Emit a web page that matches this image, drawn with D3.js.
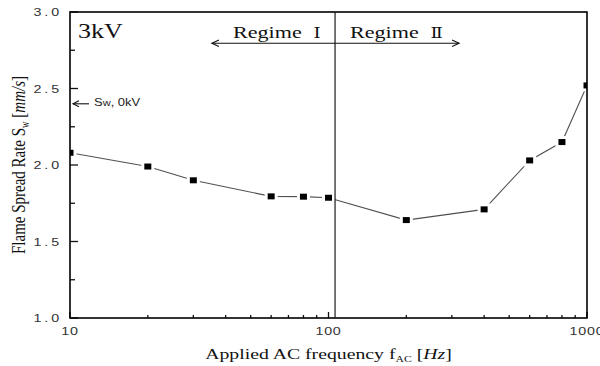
<!DOCTYPE html>
<html>
<head>
<meta charset="utf-8">
<script src="https://cdn.jsdelivr.net/npm/d3@7"></script>
<style>
  body { margin: 0; background: #fff; }
  svg { display: block; }
</style>
</head>
<body>
<svg id="chart" width="600" height="366"></svg>
<script>
// Flame spread rate versus applied AC frequency at 3 kV
const frequencies = [10, 20, 30, 60, 80, 100, 200, 400, 600, 800, 1000];
const spreadRates = [2.08, 1.99, 1.90, 1.795, 1.793, 1.786, 1.64, 1.71, 2.03, 2.15, 2.52];

const yTickValues = [1.0, 1.5, 2.0, 2.5, 3.0];
const yMinorTicks = [1.25, 1.75, 2.25, 2.75];
const xTickValues = [10, 100, 1000];
const xMinorTicks = [20, 30, 40, 50, 60, 70, 80, 90, 200, 300, 400, 500, 600, 700, 800, 900];

const regimeBoundary = 106;          // Hz, divider between regimes
const regimeArrowEnds = [35.4, 320]; // Hz, extent of the regime arrows
const swZeroKV = 2.40;               // spread rate without applied voltage

(function draw() {
  const svg = d3.select("#chart");
  const pLeft = 70, pRight = 587, pTop = 12, pBottom = 318;
  const SX = 1.3; // horizontal stretch of the lettering

  const x = d3.scaleLog().domain([10, 1000]).range([pLeft, pRight]);
  const y = d3.scaleLinear().domain([1, 3]).range([pBottom, pTop]);

  function stretched(parent, px, py, anchor) {
    return parent.append("text")
      .attr("transform", `translate(${px},${py}) scale(${SX},1)`)
      .attr("text-anchor", anchor);
  }

  svg.append("defs").append("clipPath").attr("id", "plotClip")
    .append("rect").attr("x", pLeft).attr("y", pTop)
    .attr("width", pRight - pLeft).attr("height", pBottom - pTop);

  const plot = svg.append("g").attr("clip-path", "url(#plotClip)");
  const points = frequencies.map((f, i) => [f, spreadRates[i]]);

  // connecting line
  plot.append("path")
    .datum(points)
    .attr("fill", "none")
    .attr("stroke", "#505050")
    .attr("stroke-width", 1.1)
    .attr("d", d3.line().x(d => x(d[0])).y(d => y(d[1])));

  // white halo so the line stops short of each marker
  const mw = 7, mh = 6, gap = 3;
  plot.selectAll("rect.halo").data(points).join("rect")
    .attr("class", "halo")
    .attr("x", d => x(d[0]) - mw / 2 - gap)
    .attr("y", d => y(d[1]) - mh / 2 - gap)
    .attr("width", mw + 2 * gap).attr("height", mh + 2 * gap)
    .attr("fill", "#fff");

  plot.selectAll("rect.marker").data(points).join("rect")
    .attr("class", "marker")
    .attr("x", d => x(d[0]) - mw / 2)
    .attr("y", d => y(d[1]) - mh / 2)
    .attr("width", mw).attr("height", mh)
    .attr("fill", "#000");

  // inward ticks
  const ticks = svg.append("g").attr("stroke", "#111").attr("stroke-width", 1.3);
  ticks.selectAll("line.ymaj").data(yTickValues).join("line")
    .attr("class", "ymaj")
    .attr("x1", pLeft).attr("x2", pLeft + 8)
    .attr("y1", d => y(d)).attr("y2", d => y(d));
  ticks.selectAll("line.ymin").data(yMinorTicks).join("line")
    .attr("class", "ymin")
    .attr("x1", pLeft).attr("x2", pLeft + 5)
    .attr("y1", d => y(d)).attr("y2", d => y(d));
  ticks.selectAll("line.xmaj").data(xTickValues).join("line")
    .attr("class", "xmaj")
    .attr("x1", d => x(d)).attr("x2", d => x(d))
    .attr("y1", pBottom).attr("y2", pBottom - 6);
  ticks.selectAll("line.xmin").data(xMinorTicks).join("line")
    .attr("class", "xmin")
    .attr("x1", d => x(d)).attr("x2", d => x(d))
    .attr("y1", pBottom).attr("y2", pBottom - 3);

  // frame
  svg.append("rect")
    .attr("x", pLeft).attr("y", pTop)
    .attr("width", pRight - pLeft).attr("height", pBottom - pTop)
    .attr("fill", "none").attr("stroke", "#000").attr("stroke-width", 1.6);

  // regime divider
  svg.append("line")
    .attr("x1", x(regimeBoundary)).attr("x2", x(regimeBoundary))
    .attr("y1", pTop).attr("y2", pBottom)
    .attr("stroke", "#1a1a1a").attr("stroke-width", 1.2);

  // tick labels
  const tickFont = "'Liberation Sans', Arial, sans-serif";
  yTickValues.forEach(v => {
    stretched(svg, pLeft - 8, y(v) + 4, "end")
      .attr("font-family", tickFont).attr("font-size", 11)
      .attr("letter-spacing", 2.2).attr("fill", "#333")
      .text(d3.format(".1f")(v));
  });
  xTickValues.forEach(v => {
    stretched(svg, x(v), 335, "middle")
      .attr("font-family", tickFont).attr("font-size", 11)
      .attr("letter-spacing", 0.6).attr("fill", "#333")
      .text(v);
  });

  // axis titles
  const serif = "'Liberation Serif', 'Times New Roman', serif";
  const xt = stretched(svg, (pLeft + pRight) / 2, 358.5, "middle")
    .attr("font-family", serif).attr("font-size", 15.2).attr("fill", "#111");
  xt.append("tspan").text("Applied AC frequency f");
  xt.append("tspan").attr("font-size", 9).attr("dy", 3).text("AC");
  xt.append("tspan").attr("dy", -3).text(" [");
  xt.append("tspan").attr("font-style", "italic").text("Hz");
  xt.append("tspan").text("]");

  const yt = svg.append("text")
    .attr("transform", `translate(25,${(pTop + pBottom) / 2}) scale(${SX},1) rotate(-90)`)
    .attr("text-anchor", "middle")
    .attr("font-family", serif).attr("font-size", 15).attr("fill", "#111");
  yt.append("tspan").text("Flame Spread Rate S");
  yt.append("tspan").attr("font-size", 9).attr("dy", 3).text("w");
  yt.append("tspan").attr("dy", -3).text(" [");
  yt.append("tspan").attr("font-style", "italic").text("mm/s");
  yt.append("tspan").text("]");

  // voltage label
  stretched(svg, 78, 37.5, "start")
    .attr("font-family", serif).attr("font-size", 20).attr("fill", "#111")
    .text("3kV");

  // regime labels and arrows
  const numeralFont = "'DejaVu Serif', serif";
  const r1 = stretched(svg, x(regimeBoundary) - 102, 37.5, "start")
    .attr("font-family", serif).attr("font-size", 17).attr("fill", "#111");
  r1.append("tspan").text("Regime");
  r1.append("tspan").attr("dx", 9).attr("font-family", numeralFont).attr("font-size", 14).text("Ⅰ");

  const r2 = stretched(svg, x(regimeBoundary) + 15, 37.5, "start")
    .attr("font-family", serif).attr("font-size", 17).attr("fill", "#111");
  r2.append("tspan").text("Regime");
  r2.append("tspan").attr("dx", 9).attr("font-family", numeralFont).attr("font-size", 14).text("Ⅱ");

  const arrowY = 43.3;
  const arrows = svg.append("g").attr("fill", "none").attr("stroke", "#111").attr("stroke-width", 1.1);
  const xl = x(regimeArrowEnds[0]), xr = x(regimeArrowEnds[1]);
  arrows.append("line").attr("x1", xl).attr("x2", xr).attr("y1", arrowY).attr("y2", arrowY);
  arrows.append("path").attr("d", `M${xl + 7},${arrowY - 3.2}L${xl},${arrowY}L${xl + 7},${arrowY + 3.2}`);
  arrows.append("path").attr("d", `M${xr - 7},${arrowY - 3.2}L${xr},${arrowY}L${xr - 7},${arrowY + 3.2}`);

  // zero-voltage reference marker on the axis
  const ay = y(swZeroKV);
  arrows.append("line").attr("x1", pLeft + 3).attr("x2", pLeft + 19).attr("y1", ay).attr("y2", ay);
  arrows.append("path").attr("d", `M${pLeft + 9},${ay - 3}L${pLeft + 3},${ay}L${pLeft + 9},${ay + 3}`);
  const sw = stretched(svg, pLeft + 24, ay + 2.6, "start")
    .attr("font-family", tickFont).attr("font-size", 10).attr("fill", "#222");
  sw.append("tspan").text("S");
  sw.append("tspan").attr("font-size", 8.5).text("w");
  sw.append("tspan").text(", 0kV");
})();
</script>
</body>
</html>
